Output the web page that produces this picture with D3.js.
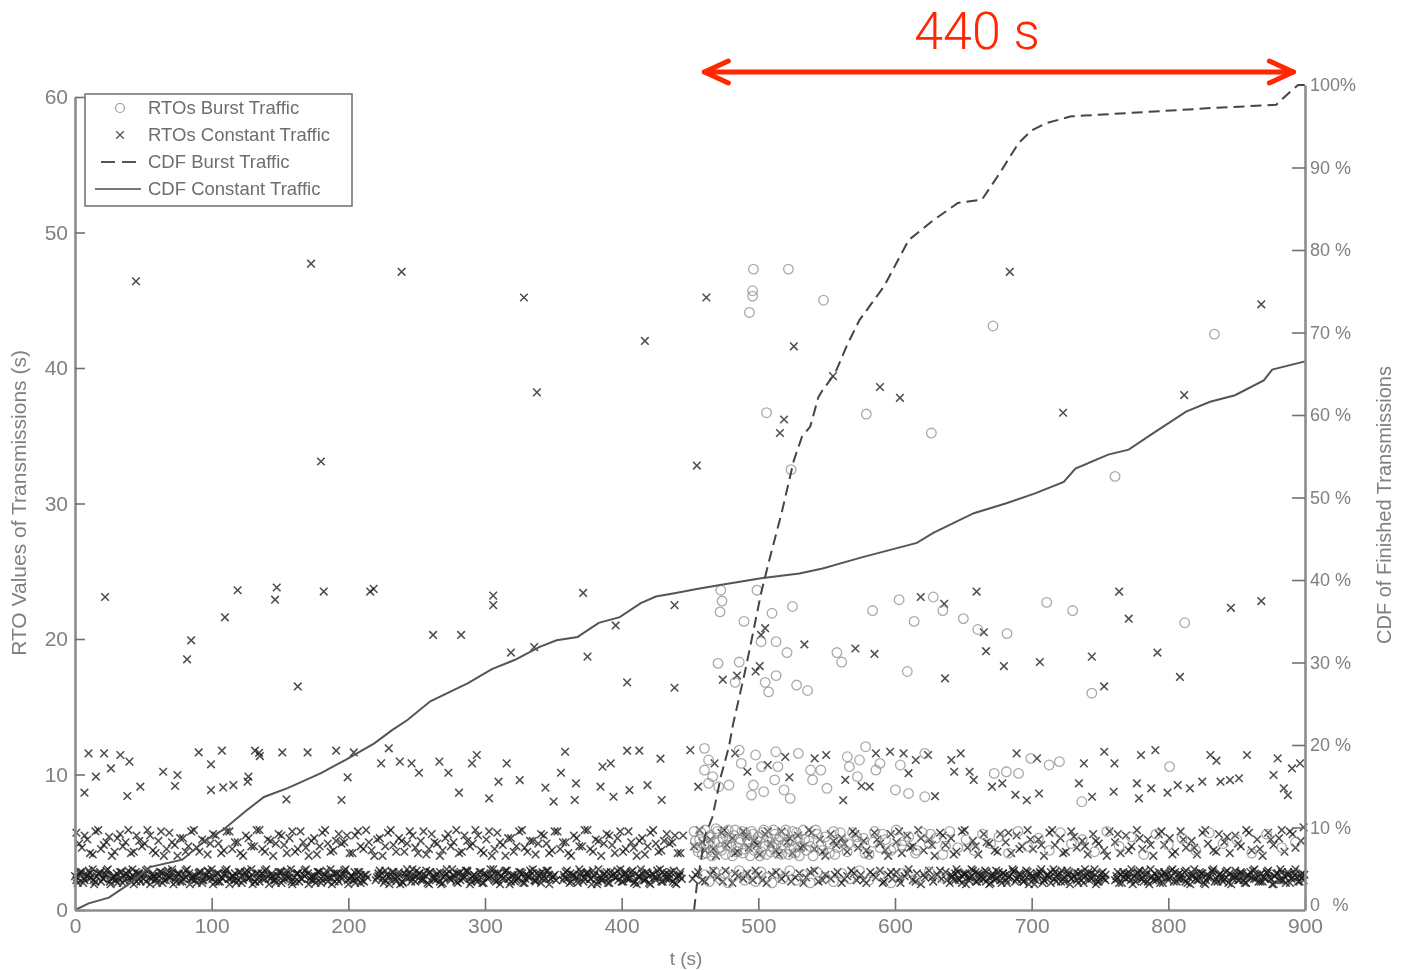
<!DOCTYPE html>
<html>
<head>
<meta charset="utf-8">
<script src="https://cdn.jsdelivr.net/npm/d3@7"></script>
<style>
  body { margin: 0; background: #fff; }
  svg { display: block; font-family: "Liberation Sans", Arial, sans-serif; }
</style>
</head>
<body>
<script>
// tick values
const xTicks = [0, 100, 200, 300, 400, 500, 600, 700, 800, 900];
const yTicks = [0, 10, 20, 30, 40, 50, 60];
const cdfTicks = [0, 10, 20, 30, 40, 50, 60, 70, 80, 90, 100];

// RTOs constant traffic (x marks), [t, rto]
const constBand = [
[0,2.5],[2,2.0],[5,2.8],[7,2.2],[10,2.9],[12,2.4],[14,1.9],[17,2.7],[19,2.1],[22,2.6],[24,3.0],[27,2.3],[29,2.5],[31,2.0],[34,2.8],[36,2.2],[39,2.9],[41,2.4],[43,1.9],[46,2.7],[48,2.1],[51,2.6],[53,3.0],[56,2.3],[58,2.5],[60,2.0],[63,2.8],[65,2.2],[68,2.9],[70,2.4],[72,1.9],[75,2.7],[77,2.1],[80,2.6],[82,3.0],[85,2.3],[87,2.5],[89,2.0],[92,2.8],[94,2.2],[97,2.9],[99,2.4],[101,1.9],[104,2.7],[106,2.1],[109,2.6],[111,3.0],[114,2.3],[116,2.5],[118,2.0],[121,2.8],[123,2.2],[126,2.9],[128,2.4],[130,1.9],[133,2.7],[135,2.1],[138,2.6],[140,3.0],[143,2.3],[145,2.5],[147,2.0],[150,2.8],[152,2.2],[155,2.9],[157,2.4],[159,1.9],[162,2.7],[164,2.1],[167,2.6],[169,3.0],[172,2.3],[174,2.5],[176,2.0],[179,2.8],[181,2.2],[184,2.9],[186,2.4],[188,1.9],[191,2.7],[193,2.1],[196,2.6],[198,3.0],[201,2.3],[203,2.5],[205,2.0],[208,2.8],[210,2.2],[213,2.6],
[221,2.4],[223,2.9],[226,2.0],[228,2.6],[231,2.2],[233,2.8],[236,2.4],[238,1.9],[241,2.7],[243,3.0],[246,2.1],[248,2.5],[250,2.9],[253,2.2],[255,2.6],[258,2.0],[260,2.8],[263,2.3],[265,2.7],[268,1.9],[270,2.5],[272,3.0],[275,2.2],[277,2.6],[280,2.0],[282,2.8],[285,2.4],[287,2.9],[290,2.1],[292,2.6],[294,2.3],[297,2.8],[299,2.0],[302,2.5],[304,3.0],[307,2.2],[309,2.7],[311,1.9],[314,2.4],[316,2.9],[319,2.1],[321,2.6],[324,2.3],[326,2.8],[329,2.0],[331,2.5],[333,2.9],[336,2.2],[338,2.7],[341,2.0],[343,2.5],[346,2.9],[348,2.3],[351,2.6],
[358,2.4],[360,2.9],[363,2.1],[365,2.6],[368,2.0],[370,2.8],[373,2.3],[375,2.7],[378,1.9],[380,2.5],[383,3.0],[385,2.2],[387,2.6],[390,2.0],[392,2.8],[395,2.4],[397,2.9],[400,2.1],[402,2.6],[404,2.3],[407,2.8],[409,2.0],[412,2.5],[414,3.0],[417,2.2],[419,2.7],[421,1.9],[424,2.4],[426,2.9],[429,2.1],[431,2.6],[434,2.3],[436,2.8],[439,2.0],[441,2.5],[443,2.8],
[452,2.3],[456,2.8],[461,2.1],[465,2.6],[470,2.4],[476,2.9],[481,2.0],[485,2.5],[492,2.7],[496,2.2],[500,2.6],[506,2.0],[513,2.8],[517,2.3],[520,2.6],[524,2.1],[530,2.7],[535,2.4],[541,2.9],[544,2.1],[549,2.6],[553,2.3],[558,2.8],[561,2.0],[565,2.5],[568,2.9],[572,2.2],[575,2.6],[579,2.0],[582,2.8],[586,2.4],[589,2.9],[592,2.1],[595,2.6],[598,2.3],[601,2.8],[604,2.0],[607,2.5],[610,3.0],[613,2.2],[616,2.7],[619,1.9],[622,2.4],[625,2.9],[628,2.1],[631,2.6],[634,2.3],[637,2.8],
[640,2.0],[642,2.5],[645,3.0],[647,2.2],[650,2.7],[652,1.9],[655,2.4],[657,2.9],[660,2.1],[662,2.6],[665,2.3],[667,2.8],[670,2.0],[672,2.5],[674,2.9],[677,2.2],[679,2.7],[682,2.0],[684,2.5],[687,2.9],[689,2.3],[692,2.6],[694,2.1],[697,2.8],[699,2.4],[702,1.9],[704,2.7],[707,3.0],[709,2.2],[712,2.6],[714,2.0],[717,2.8],[719,2.4],[722,2.9],[724,2.1],[727,2.6],[729,2.3],[732,2.8],[734,2.0],[737,2.5],[739,3.0],[742,2.2],[744,2.7],[747,1.9],[749,2.4],[752,2.8],[754,2.2],
[762,2.5],[764,2.0],[767,2.8],[769,2.3],[772,2.7],[774,1.9],[777,2.4],[779,2.9],[782,2.1],[784,2.6],[787,3.0],[789,2.2],[792,2.5],[794,2.0],[797,2.8],[799,2.4],[802,2.9],[804,2.1],[807,2.6],[809,2.3],[812,2.8],[814,2.0],[817,2.5],[819,3.0],[822,2.2],[824,2.7],[827,1.9],[829,2.4],[832,2.9],[834,2.1],[837,2.6],[839,2.3],[842,2.8],[844,2.0],[847,2.5],[849,2.9],[852,2.2],[854,2.7],[857,2.0],[859,2.5],[862,2.9],[864,2.3],[867,2.6],[869,2.1],[872,2.8],[874,2.4],[877,1.9],[879,2.7],[882,3.0],[884,2.2],[887,2.6],[889,2.0],[892,2.8],[894,2.4],[897,2.6],[899,2.2]
];
const constBand2 = [
[1,2.2],[4,2.8],[6,2.0],[9,2.6],[11,2.4],[13,3.0],[15,2.1],[18,2.7],[21,2.3],[23,2.9],[26,1.9],[28,2.5],[30,2.2],[33,2.8],[35,2.0],[38,2.6],[40,2.4],[42,3.0],[45,2.1],[47,2.7],[50,2.3],[52,2.9],[55,1.9],[57,2.5],[59,2.2],[62,2.8],[64,2.0],[67,2.6],[69,2.4],[71,3.0],[74,2.1],[76,2.7],[79,2.3],[81,2.9],[84,1.9],[86,2.5],[88,2.2],[91,2.8],[93,2.0],[96,2.6],[98,2.4],[100,3.0],[103,2.1],[105,2.7],[108,2.3],[110,2.9],[113,1.9],[115,2.5],[117,2.2],[120,2.8],[122,2.0],[125,2.6],[127,2.4],[129,3.0],[132,2.1],[134,2.7],[137,2.3],[139,2.9],[142,1.9],[144,2.5],[146,2.2],[149,2.8],[151,2.0],[154,2.6],[156,2.4],[158,3.0],[161,2.1],[163,2.7],[166,2.3],[168,2.9],[171,1.9],[173,2.5],[175,2.2],[178,2.8],[180,2.0],[183,2.6],[185,2.4],[187,3.0],[190,2.1],[192,2.7],[195,2.3],[197,2.9],[200,1.9],[202,2.5],[204,2.2],[207,2.8],[209,2.0],[212,2.6],
[220,2.2],[222,2.7],[225,2.3],[227,2.9],[230,1.9],[232,2.5],[235,2.1],[237,2.8],[240,2.0],[242,2.6],[245,2.4],[247,3.0],[249,2.1],[252,2.7],[254,2.3],[257,2.9],[259,1.9],[262,2.5],[264,2.2],[267,2.8],[269,2.0],[271,2.6],[274,2.4],[276,3.0],[279,2.1],[281,2.7],[284,2.3],[286,2.9],[289,1.9],[291,2.5],[293,2.2],[296,2.8],[298,2.0],[301,2.6],[303,2.4],[306,3.0],[308,2.1],[310,2.7],[313,2.3],[315,2.9],[318,1.9],[320,2.5],[323,2.2],[325,2.8],[328,2.0],[330,2.6],[332,2.4],[335,3.0],[337,2.1],[340,2.7],[342,2.3],[345,2.9],[347,1.9],[350,2.5],
[357,2.2],[359,2.8],[362,2.0],[364,2.6],[367,2.4],[369,3.0],[372,2.1],[374,2.7],[377,2.3],[379,2.9],[382,1.9],[384,2.5],[386,2.2],[389,2.8],[391,2.0],[394,2.6],[396,2.4],[399,3.0],[401,2.1],[403,2.7],[406,2.3],[408,2.9],[411,1.9],[413,2.5],[416,2.2],[418,2.8],[420,2.0],[423,2.6],[425,2.4],[428,3.0],[430,2.1],[433,2.7],[435,2.3],[438,2.9],[440,1.9],[442,2.5],
[454,2.6],[459,2.2],[467,2.9],[474,2.1],[483,2.7],[489,2.3],[498,2.9],[503,2.2],[510,2.6],[527,2.4],[533,2.0],[538,2.8],[547,2.2],[556,2.6],[563,2.3],[570,2.7],[577,2.2],[584,2.6],[591,2.0],[597,2.8],[603,2.3],[609,2.7],[615,2.1],[621,2.6],[627,2.4],[633,2.9],[638,2.2],
[641,2.6],[644,2.2],[646,2.8],[649,2.0],[651,2.6],[654,2.4],[656,3.0],[659,2.1],[661,2.7],[664,2.3],[666,2.9],[669,1.9],[671,2.5],[673,2.2],[676,2.8],[678,2.0],[681,2.6],[683,2.4],[686,3.0],[688,2.1],[691,2.7],[693,2.3],[696,2.9],[698,1.9],[701,2.5],[703,2.2],[706,2.8],[708,2.0],[711,2.6],[713,2.4],[716,3.0],[718,2.1],[721,2.7],[723,2.3],[726,2.9],[728,1.9],[731,2.5],[733,2.2],[736,2.8],[738,2.0],[741,2.6],[743,2.4],[746,3.0],[748,2.1],[751,2.7],[753,2.3],
[761,2.2],[763,2.8],[766,2.0],[768,2.6],[771,2.4],[773,3.0],[776,2.1],[778,2.7],[781,2.3],[783,2.9],[786,1.9],[788,2.5],[791,2.2],[793,2.8],[796,2.0],[798,2.6],[801,2.4],[803,3.0],[806,2.1],[808,2.7],[811,2.3],[813,2.9],[816,1.9],[818,2.5],[821,2.2],[823,2.8],[826,2.0],[828,2.6],[831,2.4],[833,3.0],[836,2.1],[838,2.7],[841,2.3],[843,2.9],[846,1.9],[848,2.5],[851,2.2],[853,2.8],[856,2.0],[858,2.6],[861,2.4],[863,3.0],[866,2.1],[868,2.7],[871,2.3],[873,2.9],[876,1.9],[878,2.5],[881,2.2],[883,2.8],[886,2.0],[888,2.6],[891,2.4],[893,3.0],[896,2.1],[898,2.7]
];
const constBand3 = [
[1.5,2.4],[3.5,2.7],[6.5,2.3],[8.5,2.5],[11,2.7],[13.5,2.2],[16,2.5],[18.5,2.8],[20.5,2.3],[23,2.6],[25.5,2.1],[28,2.4],[30.5,2.7],[32.5,2.3],[35.5,2.5],[37.5,2.7],[40.5,2.2],[42.5,2.5],[44.5,2.8],[47,2.3],[49.5,2.6],[52,2.1],[54.5,2.4],[57,2.7],[59.5,2.3],[61.5,2.5],[64,2.7],[66.5,2.2],[69,2.5],[71,2.8],[73.5,2.3],[76,2.6],[78.5,2.1],[81,2.4],[83.5,2.7],[86,2.3],[88.5,2.5],[90.5,2.7],[93,2.2],[95.5,2.5],[98,2.8],[100.5,2.3],[102.5,2.6],[105,2.1],[107.5,2.4],[110,2.7],[112.5,2.3],[115,2.5],[117,2.7],[119.5,2.2],[122,2.5],[124.5,2.8],[127,2.3],[129.5,2.6],[131.5,2.1],[134,2.4],[136.5,2.7],[139,2.3],[141.5,2.5],[144,2.7],[146.5,2.2],[148.5,2.5],[151,2.8],[153.5,2.3],[156,2.6],[158.5,2.1],[160.5,2.4],[163,2.7],[165.5,2.3],[168,2.5],[170.5,2.7],[173,2.2],[175.5,2.5],[177.5,2.8],[180,2.3],[182.5,2.6],[185,2.1],[187.5,2.4],[189.5,2.7],[192,2.3],[194.5,2.5],[197,2.7],[199.5,2.2],[202,2.5],[204.5,2.8],[206.5,2.3],[209,2.6],[211.5,2.1],[214,2.4],
[222,2.5],[224.5,2.7],[227,2.2],[229.5,2.5],[232,2.8],[234.5,2.3],[237,2.6],[239.5,2.1],[242,2.4],[244.5,2.7],[247,2.3],[249.5,2.5],[252,2.7],[254.5,2.2],[257,2.5],[259.5,2.8],[262,2.3],[264.5,2.6],[267,2.1],[269.5,2.4],[272,2.7],[274.5,2.3],[277,2.5],[279.5,2.7],[282,2.2],[284.5,2.5],[287,2.8],[289.5,2.3],[292,2.6],[294.5,2.1],[297,2.4],[299.5,2.7],[302,2.3],[304.5,2.5],[307,2.7],[309.5,2.2],[312,2.5],[314.5,2.8],[317,2.3],[319.5,2.6],[322,2.1],[324.5,2.4],[327,2.7],[329.5,2.3],[332,2.5],[334.5,2.7],[337,2.2],[339.5,2.5],[342,2.8],[344.5,2.3],[347,2.6],[349.5,2.4],[352,2.2],
[357.5,2.6],[360,2.3],[362.5,2.7],[365,2.5],[367.5,2.2],[370,2.6],[372.5,2.4],[375,2.8],[377.5,2.3],[380,2.6],[382.5,2.1],[385,2.4],[387.5,2.7],[390,2.3],[392.5,2.5],[395,2.7],[397.5,2.2],[400,2.5],[402.5,2.8],[405,2.3],[407.5,2.6],[410,2.1],[412.5,2.4],[415,2.7],[417.5,2.3],[420,2.5],[422.5,2.7],[425,2.2],[427.5,2.5],[430,2.8],[432.5,2.3],[435,2.6],[437.5,2.1],[440,2.4],[442.5,2.6],[444,2.3],
[641.5,2.4],[644,2.7],[646.5,2.3],[649,2.5],[651.5,2.7],[654,2.2],[656.5,2.5],[659,2.8],[661.5,2.3],[664,2.6],[666.5,2.1],[669,2.4],[671.5,2.7],[674,2.3],[676.5,2.5],[679,2.7],[681.5,2.2],[684,2.5],[686.5,2.8],[689,2.3],[691.5,2.6],[694,2.1],[696.5,2.4],[699,2.7],[701.5,2.3],[704,2.5],[706.5,2.7],[709,2.2],[711.5,2.5],[714,2.8],[716.5,2.3],[719,2.6],[721.5,2.1],[724,2.4],[726.5,2.7],[729,2.3],[731.5,2.5],[734,2.7],[736.5,2.2],[739,2.5],[741.5,2.8],[744,2.3],[746.5,2.6],[749,2.1],[751.5,2.4],[754,2.6],
[762.5,2.3],[765,2.6],[767.5,2.4],[770,2.7],[772.5,2.2],[775,2.5],[777.5,2.8],[780,2.3],[782.5,2.6],[785,2.1],[787.5,2.4],[790,2.7],[792.5,2.3],[795,2.5],[797.5,2.7],[800,2.2],[802.5,2.5],[805,2.8],[807.5,2.3],[810,2.6],[812.5,2.1],[815,2.4],[817.5,2.7],[820,2.3],[822.5,2.5],[825,2.7],[827.5,2.2],[830,2.5],[832.5,2.8],[835,2.3],[837.5,2.6],[840,2.1],[842.5,2.4],[845,2.7],[847.5,2.3],[850,2.5],[852.5,2.7],[855,2.2],[857.5,2.5],[860,2.8],[862.5,2.3],[865,2.6],[867.5,2.1],[870,2.4],[872.5,2.7],[875,2.3],[877.5,2.5],[880,2.7],[882.5,2.2],[885,2.5],[887.5,2.8],[890,2.3],[892.5,2.6],[895,2.1],[897.5,2.4],[899.5,2.6]
];
const constMid = [
[1,5.7],[5,4.6],[9,5.2],[13,4.1],[17,5.9],[21,4.8],[25,5.4],[29,4.3],[33,5.6],[37,5.0],[41,4.2],[45,5.5],[49,4.7],[53,5.9],[57,4.4],[61,5.1],[65,4.0],[69,5.7],[73,4.8],[77,5.3],[81,4.3],[85,5.8],[89,4.6],[93,5.2],[97,4.1],[101,5.6],[105,4.9],[109,4.4],[113,5.8],[117,5.0],[121,4.2],[125,5.5],[129,4.7],[133,5.9],[137,4.5],[141,5.2],[145,4.0],[149,5.6],[153,4.8],[157,5.3],[161,4.3],[165,5.8],[169,4.6],[173,5.1],[177,4.1],[181,5.7],[185,4.9],[189,4.4],[193,5.6],[197,5.0],[201,4.2],[205,5.5],[209,4.7],[213,5.9],[217,4.4],[221,5.2],[225,4.0],[229,5.7],[233,4.8],[237,5.3],[241,4.3],[245,5.8],[249,4.6],[253,5.1],[257,4.1],[261,5.6],[265,4.9],[269,4.4],[273,5.6],[277,5.0],[281,4.2],[285,5.5],[289,4.7],[293,5.9],[297,4.4],[301,5.2],[305,4.0],[309,5.7],[313,4.8],[317,5.3],[321,4.3],[325,5.8],[329,4.6],[333,5.1],[337,4.1],[341,5.6],[345,4.9],[349,4.4],[353,5.8],[357,5.0],[361,4.2],[365,5.5],[369,4.7],[373,5.9],[377,4.5],[381,5.2],[385,4.0],[389,5.6],[393,4.8],[397,5.3],[401,4.3],[405,5.8],[409,4.6],[413,5.1],[417,4.1],[421,5.7],[425,4.9],[429,4.4],[433,5.6],[437,5.0],[441,4.2],[445,5.5],
[453,4.7],[457,5.9],[461,4.4],[465,5.2],[469,4.0],[473,5.7],[477,4.8],[481,5.3],[485,4.3],[489,5.8],[493,4.6],[497,5.1],[501,4.1],[505,5.6],[509,4.9],[513,4.4],[517,5.8],[521,5.0],[525,4.2],[529,5.5],[533,4.7],[537,5.9],[541,4.5],[545,5.2],[549,4.0],[553,5.6],[557,4.8],[561,5.3],[565,4.3],[569,5.8],[573,4.6],[577,5.1],[581,4.1],[585,5.7],[589,4.9],[593,4.4],[597,5.6],[601,5.0],[605,4.2],[609,5.5],[613,4.7],[617,5.9],[621,4.4],[625,5.2],[629,4.0],[633,5.7],[637,4.8],[641,5.3],[645,4.3],[649,5.8],[653,4.6],[657,5.1],[661,4.1],[665,5.6],[669,4.9],[673,4.4],[677,5.6],[681,5.0],[685,4.2],[689,5.5],[693,4.7],[697,5.9],[701,4.5],[705,5.2],[709,4.0],[713,5.7],[717,4.8],[721,5.3],[725,4.3],[729,5.8],[733,4.6],[737,5.1],[741,4.1],[745,5.6],[749,4.9],[753,4.4],[757,5.8],[761,5.0],[765,4.2],[769,5.5],[773,4.7],[777,5.9],[781,4.5],[785,5.2],[789,4.0],[793,5.6],[797,4.8],[801,5.3],[805,4.3],[809,5.8],[813,4.6],[817,5.1],[821,4.1],[825,5.7],[829,4.9],[833,4.4],[837,5.6],[841,5.0],[845,4.2],[849,5.5],[853,4.7],[857,5.9],[861,4.4],[865,5.2],[869,4.0],[873,5.7],[877,4.8],[881,5.3],[885,4.3],[889,5.8],[893,4.6],[897,5.1]
];
const constMid2 = [
[3,4.9],[7,5.5],[11,4.2],[15,5.8],[19,4.5],[23,5.0],[27,4.0],[31,5.3],[35,4.7],[39,5.9],[43,4.3],[47,5.1],[51,4.9],[55,5.5],[59,4.2],[63,5.8],[67,4.5],[71,5.0],[75,4.0],[79,5.3],[83,4.7],[87,5.9],[91,4.3],[95,5.1],[99,4.9],[103,5.5],[107,4.2],[111,5.8],[115,4.5],[119,5.0],[123,4.0],[127,5.3],[131,4.7],[135,5.9],[139,4.3],[143,5.1],[147,4.9],[151,5.5],[155,4.2],[159,5.8],[163,4.5],[167,5.0],[171,4.0],[175,5.3],[179,4.7],[183,5.9],[187,4.3],[191,5.1],[195,4.9],[199,5.5],[203,4.2],[207,5.8],[211,4.5],[215,5.0],[219,4.0],[223,5.3],[227,4.7],[231,5.9],[235,4.3],[239,5.1],[243,4.9],[247,5.5],[251,4.2],[255,5.8],[259,4.5],[263,5.0],[267,4.0],[271,5.3],[275,4.7],[279,5.9],[283,4.3],[287,5.1],[291,4.9],[295,5.5],[299,4.2],[303,5.8],[307,4.5],[311,5.0],[315,4.0],[319,5.3],[323,4.7],[327,5.9],[331,4.3],[335,5.1],[339,4.9],[343,5.5],[347,4.2],[351,5.8],[355,4.5],[359,5.0],[363,4.0],[367,5.3],[371,4.7],[375,5.9],[379,4.3],[383,5.1],[387,4.9],[391,5.5],[395,4.2],[399,5.8],[403,4.5],[407,5.0],[411,4.0],[415,5.3],[419,4.7],[423,5.9],[427,4.3],[431,5.1],[435,4.9],[439,5.5],[443,4.2],
[459,5.0],[467,4.5],[475,5.9],[483,4.2],[491,5.4],[499,4.8],[507,5.8],[515,4.1],[523,5.3],[531,4.6],[539,5.7],[547,4.3],[555,5.1],[563,4.9],[571,5.6],[579,4.4],[587,5.2],[595,4.0],[603,5.8],[611,4.6],[619,5.3],[627,4.8],[635,5.5],[643,4.1],[651,5.9],[659,4.7],[667,5.0],[675,4.3],[683,5.7],[691,4.5],[699,5.2],[707,4.8],[715,5.9],[723,4.2],[731,5.4],[739,4.7],[747,5.1],[755,4.0],[763,5.6],[771,4.4],[779,5.3],[787,4.8],[795,5.8],[803,4.1],[811,5.2],[819,4.6],[827,5.9],[835,4.3],[843,5.4],[851,4.9],[859,5.7],[867,4.5],[875,5.2],[883,5.9],[891,5.6],[899,6.1]
];
const constUpper = [
[6.9,8.66],[9.9,11.56],[15.3,9.84],[21.3,11.56],[26.3,10.45],[33.2,11.44],[38.3,8.41],[39.8,10.95],[47.8,9.1],[64.5,10.2],[73.2,9.15],[75,9.96],[90.5,11.63],[99.5,10.75],[99.5,8.85],[107.5,11.76],[108.4,9.05],[115.9,9.22],[126.3,9.47],[126.9,9.84],[131.7,11.76],[134.7,11.6],[135.3,11.36],[151.7,11.63],[154.7,8.17],[170.2,11.63],[191.1,11.76],[195,8.12],[199.5,9.79],[204,11.63],[224,10.82],[229.6,11.93],[237.7,10.95],[246.3,10.82],[251.7,10.13],[266.6,10.95],[273.2,10.13],[281,8.66],[290.5,10.82],[294,11.44],[303,8.24],[309.9,9.47],[315.9,10.82],[325.4,9.59],[344.2,9.03],[350.2,8],[355.6,10.13],[358.6,11.68],[365.7,8.12],[366.6,9.35],[384.5,9.1],[386,10.58],[392,10.82],[394,8.36],[404,11.76],[405.7,8.85],[412.9,11.76],[418.9,9.22],[428.4,11.17],[429.3,8.12],[450.2,11.8],[456,9.1],
[468,10.82],[483,11.56],[492,10.2],[506.9,10.7],[519.7,11.3],[522.7,9.8],[541.2,11.19],[549.6,11.44],[562.1,8.1],[563.6,9.6],[575.5,9.15],[581.5,9.1],[586,11.56],[596.4,11.68],[606.3,11.56],[609.9,10.1],[615.2,11.07],[624.2,11.44],[629.3,8.4],[641.2,11.07],[643.3,10.2],[648.1,11.56],[654.6,10.2],[657.6,9.6],[671,9.1],[678.5,9.35],[688.1,8.5],[689,11.56],[696.4,8.1],[703.9,11.19],[705.4,8.6],[734.6,9.35],[738.2,10.82],[744.2,8.36],[753.1,11.68],[760,8.73],[760.6,10.82],[777,9.35],[778.5,8.24],[780,11.44],[787.5,8.98],[790.5,11.8],[799.4,8.66],[806.9,9.22],[815.8,8.98],[824.8,9.47],[830.8,11.44],[835.2,11.02],[838.2,9.47],[845.1,9.59],[851.7,9.72],[857.6,11.44],[877,9.96],[880,11.19],[884.5,8.98],[887.5,8.48],[890.5,10.45],[896.4,10.82]
];
const constHigh = [
[22,23.1],[44.6,46.4],[82,18.5],[85,19.9],[109.7,21.6],[119,23.6],[146.4,22.9],[147.6,23.8],[163,16.5],[172.7,47.7],[180,33.1],[182,23.5],[216,23.5],[218.5,23.7],[239,47.1],[262,20.3],[282.5,20.3],[306,23.2],[306,22.5],[319,19],[328.5,45.2],[336,19.4],[338,38.2],[371.8,23.4],[375,18.7],[395.6,21],[404,16.8],[417,42],[438.7,16.4],[438.7,22.5],[455,32.8],[462,45.2],[474,17],[484.4,17.3],[498,17.6],[501,18],[502,20.3],[505,20.8],[515.8,35.2],[518.8,36.2],[526,41.6],[533.7,19.6],[554.6,39.4],[571,19.3],[585,18.9],[589,38.6],[603.6,37.8],[618.8,23.1],[636,22.6],[636.6,17.1],[659.7,23.5],[665,20.5],[666.6,19.1],[679.7,18],[684,47.1],[706,18.3],[723,36.7],[744,18.7],[753,16.5],[764,23.5],[771,21.5],[792,19],[808.5,17.2],[811.6,38],[845.8,22.3],[868,22.8],[868,44.7]
];

// RTOs burst traffic (circles), [t, rto]
const burstBand = [
[461,2.6],[464,2.1],[468,2.8],[472,2.3],[475,2.7],[478,2.0],[482,2.5],[486,2.9],[490,2.2],[494,2.6],[498,2.1],[502,2.8],[506,2.4],[510,2.0],[514,2.7],[518,2.3],[523,2.9],[528,2.2],[533,2.6],[538,2.0],[543,2.8],[549,2.4],[555,2.1],[561,2.7],[567,2.3],[574,2.9],[581,2.2],[589,2.6],[597,2.0],[606,2.7],[615,2.3],[625,2.8],[635,2.4]
];
const burstMid = [
[453,5.8],[455,4.6],[457,5.2],[459,4.1],[461,5.9],[463,4.9],[465,5.5],[467,4.3],[469,6.0],[471,5.0],[473,4.4],[475,5.7],[477,4.8],[479,5.3],[481,4.0],[483,5.9],[485,4.6],[487,5.2],[489,4.2],[491,5.6],[493,4.9],[495,5.8],[497,4.4],[499,5.1],[501,4.0],[503,5.7],[505,4.7],[507,5.4],[509,4.3],[511,5.9],[513,4.8],[515,5.2],[517,4.1],[519,5.6],[521,5.0],[523,4.5],[525,5.8],[527,4.2],[529,5.3],[531,4.7],[533,5.9],[535,4.4],[537,5.1],[540,4.0],[543,5.6],[546,4.8],[549,5.4],[552,4.2],[555,5.8],[558,4.6],[561,5.1],[565,4.3],[569,5.7],[573,4.9],[577,5.3],[581,4.1],[585,5.8],[589,4.6],[593,5.2],[597,4.4],[601,5.9],[605,4.8],[610,5.4],[615,4.2],[620,5.7],[625,4.9],[630,5.3],[635,4.1],[640,5.8],[646,4.6],[652,5.2],[658,4.4],[664,5.6],[670,4.9],[676,5.4],[683,4.2],[690,5.8],[697,4.7],[705,5.3],[713,4.4],[721,5.7],[729,4.9],[737,5.2],[746,4.3],[755,5.8],[764,4.7],[773,5.4],[782,4.1],[791,5.6],[800,4.8],[810,5.3],[820,4.4],[830,5.7],[840,4.9],[850,5.2],[861,4.2],[872,5.6],[883,4.6],[893,5.0]
];
const burstMid2 = [
[454,5.1],[456,4.3],[458,5.7],[460,4.8],[462,4.2],[464,5.4],[466,4.0],[468,5.0],[470,5.8],[472,4.6],[474,5.3],[476,4.1],[478,5.9],[480,4.7],[482,5.5],[484,4.3],[486,5.0],[488,5.8],[490,4.5],[492,5.2],[494,4.0],[496,5.6],[498,4.8],[500,5.4],[502,4.3],[504,5.9],[506,4.1],[508,5.0],[510,4.7],[512,5.6],[514,4.2],[516,5.4],[518,4.8],[520,5.9],[522,4.1],[524,5.1],[526,4.6],[528,5.7],[530,4.0],[534,5.2],[538,4.7],[542,5.9],[547,4.4],[551,5.0],[556,4.1],[560,5.7],[566,4.9],[572,5.4],[578,4.2],[584,5.0],[591,5.6],[599,4.6],[607,5.1],[616,4.4],[626,5.6],[637,4.7]
];
const burstUpper = [
[460.6,11.93],[463.6,11.07],[460.6,10.33],[466.6,9.84],[463.6,9.35],[471,9.1],[478.5,9.22],[486,11.8],[487.5,10.82],[498,11.44],[502.4,10.58],[496.4,9.22],[495,8.48],[503.9,8.73],[512.8,11.68],[514.3,10.58],[512,9.6],[518.8,8.86],[523.3,8.24],[529.3,11.56],[538.2,10.33],[539.7,9.6],[545.7,10.33],[550.2,8.98],[565.1,11.31],[574,11.07],[566.6,10.58],[572.5,9.84],[578.5,12.05],[586,10.33],[589,10.82],[603.9,10.7],[600.3,8.86],[609.9,8.6],[621.8,8.36],[621.8,11.56],[672.6,10.08],[681.5,10.2],[690.4,10.08],[699.4,11.19],[712.8,10.7],[720.3,10.95],[736.7,7.99],[800.9,10.58]
];
const burstHigh = [
[470.5,18.2],[472,22],[472.5,23.6],[473.4,22.8],[483,16.8],[486,18.3],[489.5,21.3],[493.5,44.1],[495.8,45.7],[495.8,45.3],[496.4,47.3],[499,23.6],[502,19.8],[505,16.8],[506,36.7],[507.5,16.1],[510,21.9],[513,19.8],[513,17.3],[521,19],[522,47.3],[524,32.5],[525,22.4],[528,16.6],[536,16.2],[547.7,45],[557.5,19],[561,18.3],[579,36.6],[583.6,22.1],[603,22.9],[609,17.6],[614,21.3],[626.6,35.2],[628,23.1],[635,22.1],[650,21.5],[660.6,20.7],[671.7,43.1],[682,20.4],[711,22.7],[730,22.1],[744,16],[761,32],[812,21.2],[833.7,42.5]
];

// CDF curves, [t, percent]
const cdfBurst = [
[453,0],[455,3],[458,6],[461,9],[466.5,11.3],[472.6,16.2],[478.5,19.8],[481.5,22.5],[490,28.7],[496,33.5],[502,38.4],[508,42.4],[517,48.1],[526,54.5],[532,57.4],[538,58.6],[544,62.2],[547,63],[556,65],[565,68.5],[574,71.5],[592,75.6],[610,81.2],[628,83.6],[646,85.7],[663.6,86.1],[675,88.9],[690.6,93],[700,94.5],[711,95.4],[729,96.2],[771,96.6],[831,97.2],[879,97.6],[884,98.4],[890.6,99.4],[895,100],[900,100]
];
const cdfConst = [
[0,0],[10,0.8],[24.8,1.5],[40,3.2],[54.7,5.2],[78.6,6.1],[95,8.4],[108.3,9.7],[125,12],[138.3,13.7],[156,14.8],[180,16.6],[198,18.2],[219,20.2],[232,21.8],[243,23],[260,25.3],[287.6,27.5],[305,29.2],[321.6,30.3],[340,31.9],[352.4,32.7],[367.8,33.1],[383.2,34.8],[398.6,35.5],[414,37.2],[425,38],[438.6,38.4],[455,38.9],[472,39.4],[502,40.2],[530,40.8],[547,41.4],[577,42.8],[616,44.5],[628,45.7],[657.7,48.1],[681.5,49.3],[702.5,50.5],[723.5,51.9],[732,53.5],[756,55.2],[771,55.8],[789,57.8],[813,60.4],[830.6,61.6],[848.8,62.4],[869.8,64.2],[876,65.5],[900,66.5]
];

// 440 s span annotation
const spanStart = 460.5;
const spanEnd = 891.5;
const spanLabel = "440 s";

const svg = d3.select("body").append("svg")
  .attr("width", 1401)
  .attr("height", 970);

svg.append("defs").append("filter")
  .attr("id", "soft")
  .append("feGaussianBlur")
  .attr("stdDeviation", 0.4);

const x = d3.scaleLinear().domain([0, 900]).range([75, 1305]);
const y = d3.scaleLinear().domain([0, 60]).range([910, 97]);
const yR = d3.scaleLinear().domain([0, 100]).range([910, 85]);

const chart = svg.append("g").attr("filter", "url(#soft)");

const crossPath = "M-3.8,-3.8L3.8,3.8M-3.8,3.8L3.8,-3.8";

function drawCrosses(pts) {
  chart.append("g")
    .selectAll("path")
    .data(pts)
    .join("path")
    .attr("d", crossPath)
    .attr("transform", (d) => `translate(${x(d[0])},${y(d[1])})`)
    .attr("fill", "none")
    .attr("stroke", "#1a1a1a")
    .attr("stroke-opacity", 0.78)
    .attr("stroke-width", 1.5);
}

function drawCircles(pts) {
  chart.append("g")
    .selectAll("circle")
    .data(pts)
    .join("circle")
    .attr("cx", (d) => x(d[0]))
    .attr("cy", (d) => y(d[1]))
    .attr("r", 4.8)
    .attr("fill", "none")
    .attr("stroke", "#8e8e8e")
    .attr("stroke-opacity", 0.75)
    .attr("stroke-width", 1.3);
}

[constBand, constBand2, constBand3, constMid, constMid2, constUpper, constHigh].forEach(drawCrosses);
[burstBand, burstMid, burstMid2, burstUpper, burstHigh].forEach(drawCircles);

const line = d3.line().x((d) => x(d[0])).y((d) => yR(d[1]));

chart.append("path")
  .datum(cdfConst)
  .attr("d", line)
  .attr("fill", "none")
  .attr("stroke", "#555")
  .attr("stroke-width", 2);

chart.append("path")
  .datum(cdfBurst)
  .attr("d", line)
  .attr("fill", "none")
  .attr("stroke", "#444")
  .attr("stroke-width", 2)
  .attr("stroke-dasharray", "11,6");

// axes
function styleAxis(g, size) {
  g.select(".domain").attr("stroke", "#8c8c8c").attr("stroke-width", 2.6);
  g.selectAll(".tick line").attr("stroke", "#707070").attr("stroke-width", 1.6);
  g.selectAll(".tick text")
    .attr("fill", "#808080")
    .style("font-size", size + "px")
    .style("font-family", "'Liberation Sans', Arial, sans-serif");
}

chart.append("g")
  .attr("transform", "translate(75,0)")
  .call(d3.axisLeft(y).tickValues(yTicks).tickSizeInner(-10).tickSizeOuter(0).tickPadding(7))
  .call((g) => styleAxis(g, 21));

chart.append("g")
  .attr("transform", "translate(0,910)")
  .call(d3.axisBottom(x).tickValues(xTicks).tickSizeInner(-12).tickSizeOuter(0).tickPadding(8))
  .call((g) => styleAxis(g, 21))
  .call((g) => g.selectAll(".tick").filter((d) => d === 0).select("line").remove());

chart.append("g")
  .attr("transform", "translate(1305,0)")
  .call(d3.axisRight(yR).tickValues(cdfTicks).tickSizeInner(-13).tickSizeOuter(0).tickPadding(5)
    .tickFormat((d) => (d === 100 ? "100%" : d === 0 ? "0\u2002\u2009%" : d + " %")))
  .call((g) => styleAxis(g, 18))
  .call((g) => g.selectAll(".tick").filter((d) => d === 0 || d === 100).select("line").remove())
  .call((g) => g.selectAll(".tick").filter((d) => d === 0).select("text").attr("y", -5));

// axis titles
chart.append("text")
  .attr("transform", "translate(26,503) rotate(-90)")
  .attr("text-anchor", "middle")
  .attr("fill", "#808080")
  .style("font-size", "21px")
  .text("RTO Values of Transmissions (s)");

chart.append("text")
  .attr("transform", "translate(1391,505) rotate(-90)")
  .attr("text-anchor", "middle")
  .attr("fill", "#808080")
  .style("font-size", "20px")
  .text("CDF of Finished Transmissions");

chart.append("text")
  .attr("x", 686)
  .attr("y", 965)
  .attr("text-anchor", "middle")
  .attr("fill", "#808080")
  .style("font-size", "19px")
  .text("t (s)");

// legend
const legend = chart.append("g");
legend.append("rect")
  .attr("x", 85).attr("y", 94).attr("width", 267).attr("height", 112)
  .attr("fill", "#fff").attr("stroke", "#777").attr("stroke-width", 1.6);

const legendItems = ["RTOs Burst Traffic", "RTOs Constant Traffic", "CDF Burst Traffic", "CDF Constant Traffic"];
legendItems.forEach((label, i) => {
  const ly = 108 + i * 27;
  legend.append("text")
    .attr("x", 148).attr("y", ly + 6)
    .attr("fill", "#6e6e6e")
    .style("font-size", "18.5px")
    .text(label);
  if (i === 0) {
    legend.append("circle").attr("cx", 120).attr("cy", ly).attr("r", 4.5)
      .attr("fill", "none").attr("stroke", "#999").attr("stroke-width", 1.2);
  } else if (i === 1) {
    legend.append("path").attr("d", crossPath).attr("transform", `translate(120,${ly})`)
      .attr("stroke", "#555").attr("stroke-width", 1.3);
  } else if (i === 2) {
    legend.append("line").attr("x1", 101).attr("x2", 139).attr("y1", ly).attr("y2", ly)
      .attr("stroke", "#555").attr("stroke-width", 2).attr("stroke-dasharray", "14,7");
  } else {
    legend.append("line").attr("x1", 95).attr("x2", 141).attr("y1", ly).attr("y2", ly)
      .attr("stroke", "#777").attr("stroke-width", 2.2);
  }
});

// red span arrow
const red = "#ff2600";
const ay = 72;
const ann = svg.append("g")
  .attr("stroke", red)
  .attr("stroke-width", 5)
  .attr("stroke-linecap", "round")
  .attr("stroke-linejoin", "round")
  .attr("fill", "none");
ann.append("line")
  .attr("x1", x(spanStart)).attr("x2", x(spanEnd))
  .attr("y1", ay).attr("y2", ay);
ann.append("path")
  .attr("d", `M${x(spanStart) + 24},${ay - 11}L${x(spanStart)},${ay}L${x(spanStart) + 24},${ay + 11}`);
ann.append("path")
  .attr("d", `M${x(spanEnd) - 24},${ay - 11}L${x(spanEnd)},${ay}L${x(spanEnd) - 24},${ay + 11}`);

svg.append("text")
  .attr("x", 977)
  .attr("y", 49)
  .attr("text-anchor", "middle")
  .attr("fill", red)
  .style("font-family", "Roboto, 'Liberation Sans', sans-serif")
  .style("font-weight", 300)
  .style("font-size", "52px")
  .text(spanLabel);
</script>
</body>
</html>
